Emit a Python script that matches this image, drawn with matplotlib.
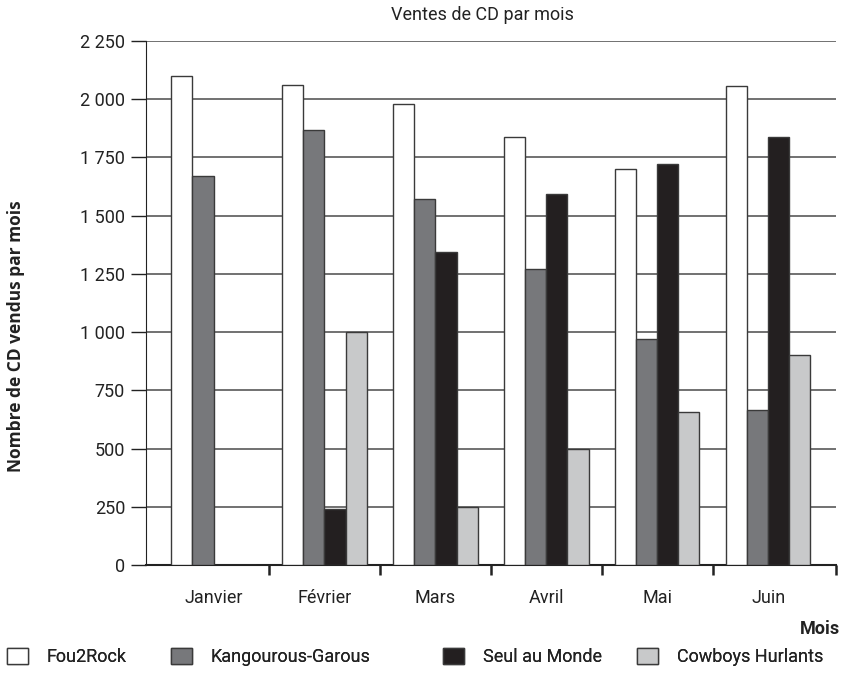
import numpy as np
import matplotlib
matplotlib.use("Agg")
import matplotlib.pyplot as plt
from matplotlib.ticker import FuncFormatter

plt.rcParams['font.family'] = ['Roboto', 'DejaVu Sans']

# data
months = ["Janvier", "Février", "Mars", "Avril", "Mai", "Juin"]
series = ["Fou2Rock", "Kangourous-Garous", "Seul au Monde", "Cowboys Hurlants"]
fou2rock = [2100, 2060, 1980, 1840, 1700, 2055]
kangourous = [1670, 1870, 1570, 1270, 970, 665]
seul = [0, 240, 1345, 1595, 1720, 1840]
cowboys = [0, 1000, 250, 500, 655, 900]
colors = ["#ffffff", "#77787b", "#231f20", "#c8c9ca"]

fig = plt.figure(figsize=(8.53, 6.73), dpi=100)
ax = fig.add_axes([0.171, 0.1605, 0.809, 0.7785])

x = np.arange(len(months))
w = 0.19
handles = []
for i, (vals, c) in enumerate(zip([fou2rock, kangourous, seul, cowboys], colors)):
    b = ax.bar(x + (i - 1.5) * w, vals, w, color=c, edgecolor="#3a3a3a",
               linewidth=1.0, zorder=3, label=series[i])
    handles.append(b)

xmin, xmax = -0.61, len(months) - 0.39
ax.set_xlim(xmin, xmax)
ax.set_ylim(0, 2250)
ax.set_yticks(np.arange(0, 2251, 250))
ax.yaxis.set_major_formatter(FuncFormatter(lambda v, p: f"{int(v):,}".replace(",", " ")))
ax.set_xticks(x)
ax.set_xticklabels(months, fontsize=13, color="#222")
ax.set_xticks(list(np.arange(0.5, len(months) - 1, 1)) + [xmax], minor=True)
ax.tick_params(axis="x", which="major", length=0, pad=17)
ax.tick_params(axis="x", which="minor", length=7, width=1.8, direction="out", color="#222")
ax.tick_params(axis="y", length=11, width=1, color="#222", labelsize=13,
               labelcolor="#222", pad=4)

ax.grid(axis="y", color="#666666", linewidth=1.3, zorder=0)
for s in ["top", "right"]:
    ax.spines[s].set_visible(False)
ax.spines["left"].set_color("#222")
ax.spines["bottom"].set_color("#222")
ax.spines["bottom"].set_linewidth(1.5)

fig.text(0.565, 0.978, "Ventes de CD par mois", ha="center", va="center",
         fontsize=13, color="#222")
fig.text(0.019, 0.5, "Nombre de CD vendus par mois", rotation=90, ha="center",
         va="center", fontsize=12.5, fontweight="bold", family=["Open Sans", "DejaVu Sans"],
         color="#222")
fig.text(0.985, 0.065, "Mois", ha="right", va="center", fontsize=13,
         fontweight="bold", color="#222")

# legend entries spread along the bottom
leg_x = [0.008, 0.2, 0.519, 0.747]
for hx, h, name in zip(leg_x, handles, series):
    lg = fig.legend([h], [name], loc="center left", bbox_to_anchor=(hx, 0.024),
                    frameon=False, fontsize=13, handlelength=1.17, handleheight=1.05,
                    handletextpad=1.05, borderpad=0, borderaxespad=0,
                    labelcolor="#222")
    fig.add_artist(lg)

fig.savefig("out.png", dpi=100)
